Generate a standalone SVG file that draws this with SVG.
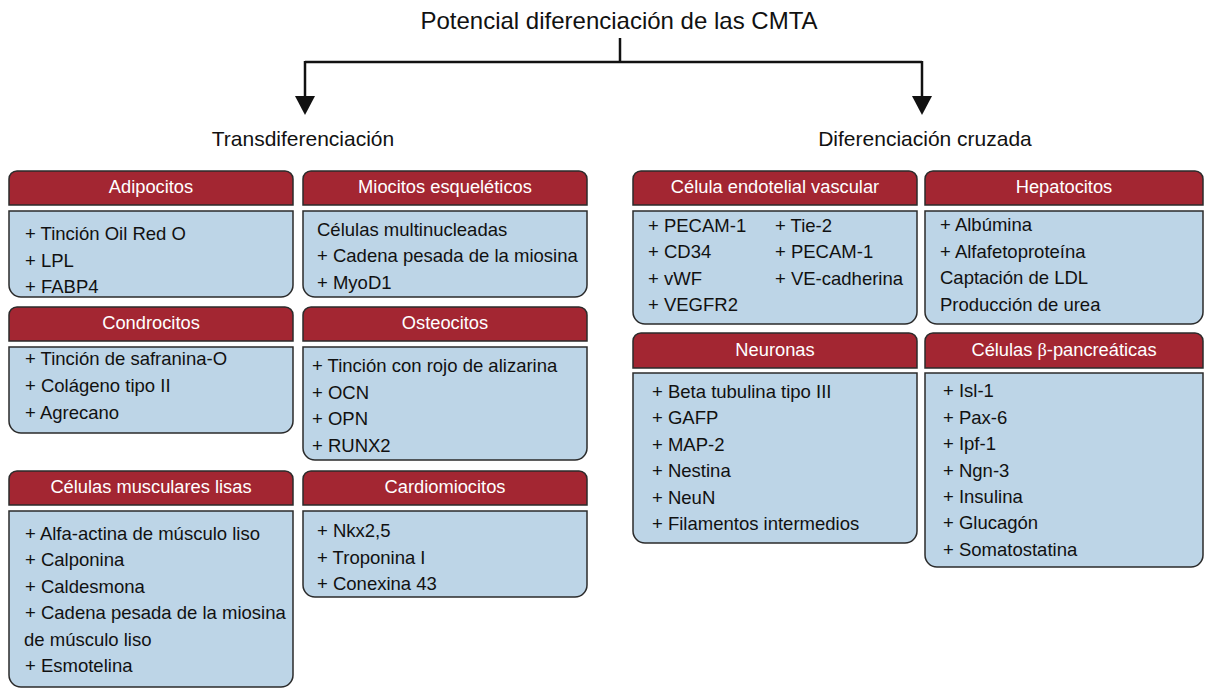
<svg xmlns="http://www.w3.org/2000/svg" width="1205" height="688" viewBox="0 0 1205 688">
<defs>
<style>
.hd{fill:#A32632;stroke:#2b2b2b;stroke-width:1.5}
.bd{fill:#BDD5E7;stroke:#2b2b2b;stroke-width:1.5}
.ht{font-family:"Liberation Sans",Arial,sans-serif;font-size:18.3px;fill:#ffffff;text-anchor:middle}
.bt{font-family:"Liberation Sans",Arial,sans-serif;font-size:18.5px;fill:#111111}
.tt{font-family:"Liberation Sans",Arial,sans-serif;fill:#111111;text-anchor:middle}
.cn{fill:none;stroke:#111111;stroke-width:2.5}
</style>
</defs>
<rect width="1205" height="688" fill="#ffffff"/>

<g id="title">
<text class="tt" x="619" y="29" font-size="24">Potencial diferenciación de las CMTA</text>
</g>
<g id="transdif">
<text class="tt" x="303" y="146" font-size="21">Transdiferenciación</text>
</g>
<g id="difcruz">
<text class="tt" x="925" y="146" font-size="21">Diferenciación cruzada</text>
</g>

<g id="connectors">
<path class="cn" d="M620,38 V62"/>
<path class="cn" d="M305,62 H922"/>
<path class="cn" d="M305,61 V98"/>
<path class="cn" d="M922,61 V98"/>
<path d="M295,96 L315,96 L305,115 Z" fill="#111"/>
<path d="M912,96 L932,96 L922,115 Z" fill="#111"/>
</g>

<g id="adipocitos">
<path class="hd" d="M9,205 V179 A8,8 0 0 1 17,171 H285 A8,8 0 0 1 293,179 V205 Z"/>
<text class="ht" x="151" y="193">Adipocitos</text>
<path class="bd" d="M9,211 H293 V285 A12,12 0 0 1 281,297 H21 A12,12 0 0 1 9,285 Z"/>
<text class="bt" x="25" y="240">+ Tinción Oil Red O</text>
<text class="bt" x="25" y="266.5">+ LPL</text>
<text class="bt" x="25" y="293">+ FABP4</text>
</g>

<g id="miocitos">
<path class="hd" d="M303,205 V179 A8,8 0 0 1 311,171 H579 A8,8 0 0 1 587,179 V205 Z"/>
<text class="ht" x="445" y="193">Miocitos esqueléticos</text>
<path class="bd" d="M303,211 H587 V285 A12,12 0 0 1 575,297 H315 A12,12 0 0 1 303,285 Z"/>
<text class="bt" x="317" y="236">Células multinucleadas</text>
<text class="bt" x="317" y="262">+ Cadena pesada de la miosina</text>
<text class="bt" x="317" y="288.5">+ MyoD1</text>
</g>

<g id="condrocitos">
<path class="hd" d="M9,341 V315 A8,8 0 0 1 17,307 H285 A8,8 0 0 1 293,315 V341 Z"/>
<text class="ht" x="151" y="329">Condrocitos</text>
<path class="bd" d="M9,347 H293 V421 A12,12 0 0 1 281,433 H21 A12,12 0 0 1 9,421 Z"/>
<text class="bt" x="25" y="365">+ Tinción de safranina-O</text>
<text class="bt" x="25" y="392">+ Colágeno tipo II</text>
<text class="bt" x="25" y="418.5">+ Agrecano</text>
</g>

<g id="osteocitos">
<path class="hd" d="M303,341 V315 A8,8 0 0 1 311,307 H579 A8,8 0 0 1 587,315 V341 Z"/>
<text class="ht" x="445" y="329">Osteocitos</text>
<path class="bd" d="M303,347 H587 V448 A12,12 0 0 1 575,460 H315 A12,12 0 0 1 303,448 Z"/>
<text class="bt" x="312" y="372">+ Tinción con rojo de alizarina</text>
<text class="bt" x="312" y="398.5">+ OCN</text>
<text class="bt" x="312" y="425">+ OPN</text>
<text class="bt" x="312" y="451.5">+ RUNX2</text>
</g>

<g id="musculares">
<path class="hd" d="M9,505 V479 A8,8 0 0 1 17,471 H285 A8,8 0 0 1 293,479 V505 Z"/>
<text class="ht" x="151" y="493">Células musculares lisas</text>
<path class="bd" d="M9,511 H293 V675 A12,12 0 0 1 281,687 H21 A12,12 0 0 1 9,675 Z"/>
<text class="bt" x="25" y="540">+ Alfa-actina de músculo liso</text>
<text class="bt" x="25" y="566">+ Calponina</text>
<text class="bt" x="25" y="592.5">+ Caldesmona</text>
<text class="bt" x="25" y="619">+ Cadena pesada de la miosina</text>
<text class="bt" x="24" y="645.5">de músculo liso</text>
<text class="bt" x="25" y="672">+ Esmotelina</text>
</g>

<g id="cardiomiocitos">
<path class="hd" d="M303,505 V479 A8,8 0 0 1 311,471 H579 A8,8 0 0 1 587,479 V505 Z"/>
<text class="ht" x="445" y="493">Cardiomiocitos</text>
<path class="bd" d="M303,511 H587 V585 A12,12 0 0 1 575,597 H315 A12,12 0 0 1 303,585 Z"/>
<text class="bt" x="317" y="537">+ Nkx2,5</text>
<text class="bt" x="317" y="563.5">+ Troponina I</text>
<text class="bt" x="317" y="590">+ Conexina 43</text>
</g>

<g id="endotelial">
<path class="hd" d="M633,205 V179 A8,8 0 0 1 641,171 H909 A8,8 0 0 1 917,179 V205 Z"/>
<text class="ht" x="775" y="193">Célula endotelial vascular</text>
<path class="bd" d="M633,211 H917 V312 A12,12 0 0 1 905,324 H645 A12,12 0 0 1 633,312 Z"/>
<text class="bt" x="648" y="231.5">+ PECAM-1</text>
<text class="bt" x="648" y="258">+ CD34</text>
<text class="bt" x="648" y="284.5">+ vWF</text>
<text class="bt" x="648" y="311">+ VEGFR2</text>
<text class="bt" x="775" y="231.5">+ Tie-2</text>
<text class="bt" x="775" y="258">+ PECAM-1</text>
<text class="bt" x="775" y="284.5">+ VE-cadherina</text>
</g>

<g id="hepatocitos">
<path class="hd" d="M925,205 V179 A8,8 0 0 1 933,171 H1195 A8,8 0 0 1 1203,179 V205 Z"/>
<text class="ht" x="1064" y="193">Hepatocitos</text>
<path class="bd" d="M925,211 H1203 V312 A12,12 0 0 1 1191,324 H937 A12,12 0 0 1 925,312 Z"/>
<text class="bt" x="940" y="231">+ Albúmina</text>
<text class="bt" x="940" y="257.5">+ Alfafetoproteína</text>
<text class="bt" x="940" y="284">Captación de LDL</text>
<text class="bt" x="940" y="310.5">Producción de urea</text>
</g>

<g id="neuronas">
<path class="hd" d="M633,368 V341 A8,8 0 0 1 641,333 H909 A8,8 0 0 1 917,341 V368 Z"/>
<text class="ht" x="775" y="356">Neuronas</text>
<path class="bd" d="M633,373 H917 V531 A12,12 0 0 1 905,543 H645 A12,12 0 0 1 633,531 Z"/>
<text class="bt" x="652" y="397.5">+ Beta tubulina tipo III</text>
<text class="bt" x="652" y="424">+ GAFP</text>
<text class="bt" x="652" y="450.5">+ MAP-2</text>
<text class="bt" x="652" y="477">+ Nestina</text>
<text class="bt" x="652" y="503.5">+ NeuN</text>
<text class="bt" x="652" y="530">+ Filamentos intermedios</text>
</g>

<g id="beta">
<path class="hd" d="M925,368 V341 A8,8 0 0 1 933,333 H1195 A8,8 0 0 1 1203,341 V368 Z"/>
<text class="ht" x="1064" y="356">Células <tspan font-family="'Liberation Serif','Times New Roman',serif">β</tspan>-pancreáticas</text>
<path class="bd" d="M925,373 H1203 V555 A12,12 0 0 1 1191,567 H937 A12,12 0 0 1 925,555 Z"/>
<text class="bt" x="943" y="397">+ Isl-1</text>
<text class="bt" x="943" y="423.5">+ Pax-6</text>
<text class="bt" x="943" y="450">+ Ipf-1</text>
<text class="bt" x="943" y="476.5">+ Ngn-3</text>
<text class="bt" x="943" y="503">+ Insulina</text>
<text class="bt" x="943" y="529">+ Glucagón</text>
<text class="bt" x="943" y="555.5">+ Somatostatina</text>
</g>
</svg>
